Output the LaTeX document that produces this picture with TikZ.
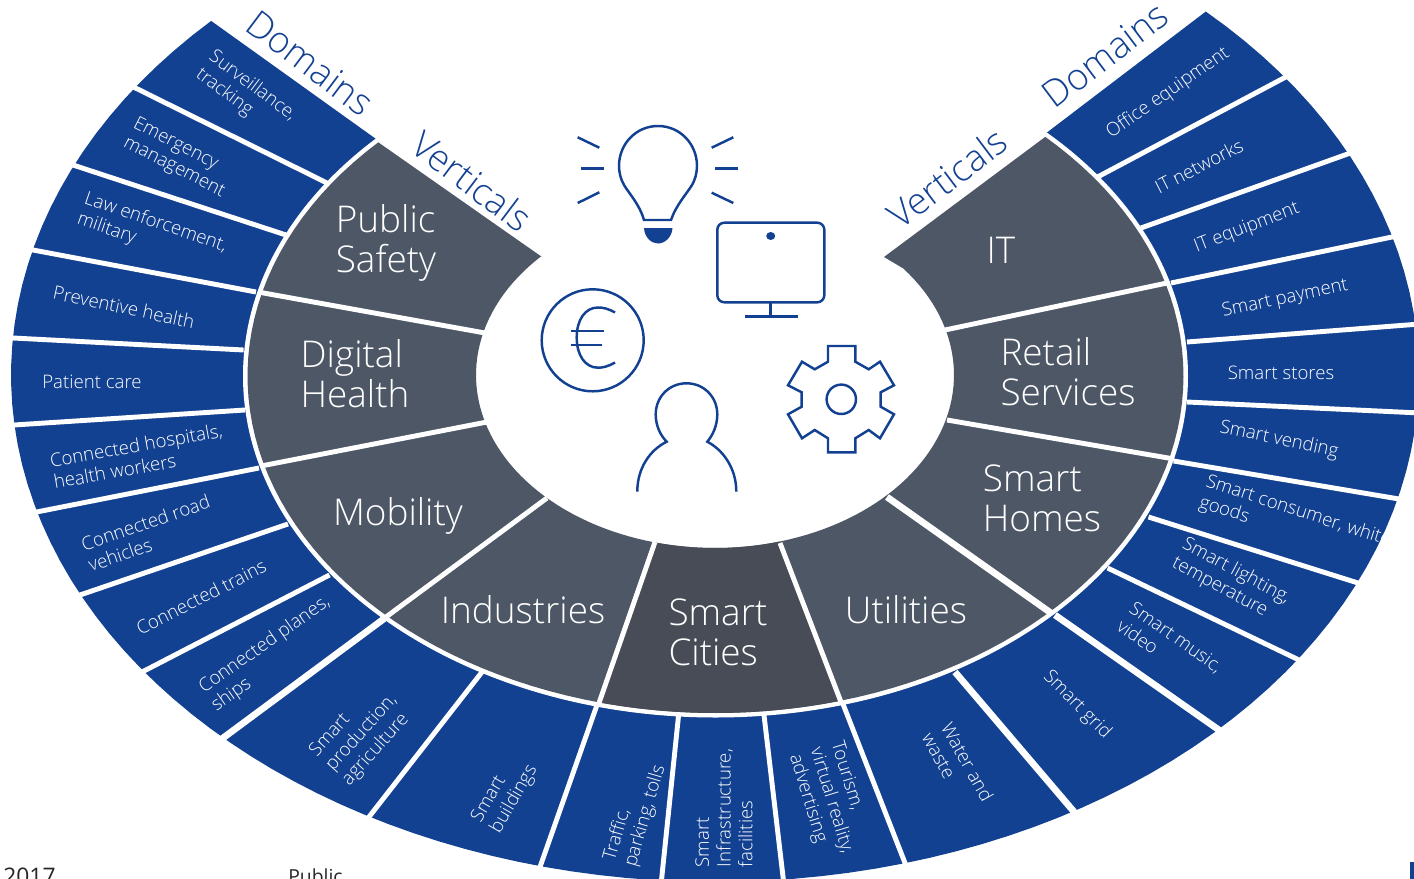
\documentclass[tikz,border=0pt]{standalone}
\usepackage{fontspec}
\setmainfont{Open Sans Light}
\newfontfamily\footerfont{Open Sans}
\usepackage{tikz}
\definecolor{domainblue}{HTML}{134192}
\definecolor{verticalgray}{HTML}{4E5766}
\definecolor{citygray}{HTML}{484C56}

\begin{document}
\begin{tikzpicture}[x=0.02cm,y=-0.02cm]
        \tikzstyle{gap} = [draw=white, line width=2.8pt]
        \tikzstyle{widegap} = [draw=white, line width=3.8pt]
        \tikzstyle{icon} = [draw=domainblue, line width=1.4pt, fill=none]
        \tikzstyle{verticallabel} = [text=white, align=left, inner sep=0, font=\fontsize{21}{22.7}\selectfont]
        \tikzstyle{domainlabel} = [text=white, align=left, inner sep=0, font=\fontsize{10.6}{12.4}\selectfont]
        \tikzstyle{heading} = [text=domainblue, inner sep=0, font=\fontsize{21}{24}\selectfont]
        \useasboundingbox (0,0) rectangle (1414,879);
        % domains
        \fill[domainblue] plot[domain=-45.8:224.3,samples=120] ({715+704*cos(\x)},{375+507*sin(\x)})
            -- (376,139) -- (1045,134) -- cycle;
        \foreach \ax/\ay/\bx/\by in {137.5/89/327/183, 76/166/286/235, 33/250/256/292, 13/338/243.6/350,
            14/425/245/410, 36.6/512/259/468, 80/595/288/524, 144/671/329.5/575, 370.5/815/482/672,
            540/867/597/705, 661/885/678.6/715, 784/885/764/715, 905/863/843/704, 1299/660/1107.6/568,
            1358/583/1148.5/517, 1399/499/1173.6/461, 1420/413/1187/402, 1420/324/1187/342,
            1392/237/1171/283, 1347.6/154/1141/228, 1282/79/1097.5/177}
            \draw[gap, shorten <=-3pt] (\ax,\ay) -- (\bx,\by);
        \foreach \ax/\ay/\bx/\by in {223/738/385/618, 1072.5/810/955/672, 1219/730/1055/615}
            \draw[widegap, shorten <=-3pt] (\ax,\ay) -- (\bx,\by);
        % verticals
        \fill[white] (715.5,376) ellipse [x radius=472.5, y radius=341.5];
        \fill[verticalgray] plot[domain=-45.2:223.9,samples=120] ({715.5+468*cos(\x)},{376+337*sin(\x)})
            -- (542,257) -- plot[domain=223.3:-38,samples=120] ({715+239*cos(\x)},{375+173*sin(\x)})
            -- (884,257) -- cycle;
        \fill[citygray] plot[domain=74.4:104.4,samples=30] ({715.5+468*cos(\x)},{376+337*sin(\x)})
            -- plot[domain=104.6:74.3,samples=30] ({715+239*cos(\x)},{375+173*sin(\x)}) -- cycle;
        \foreach \ax/\ay/\bx/\by in {258/292/485/333, 261/466/487/422, 386/617/547/498, 599/703/655/542,
            780/543/841/702, 947/420/1174/459, 945/330/1167/283}
            \draw[gap] (\ax,\ay) -- (\bx,\by);
        \draw[widegap] (887,497) -- (1051,613);
        % labels of the verticals
        \node[verticallabel] (safety) at (386,243) {Public\\Safety};
        \node[verticallabel] (health) at (355,373.5) {Digital\\Health};
        \node[verticallabel] (mobility) at (398,516) {Mobility};
        \node[verticallabel] (industries) at (523,610) {Industries};
        \node[verticallabel] (cities) at (718,632) {Smart\\Cities};
        \node[verticallabel] (utilities) at (906,610) {Utilities};
        \node[verticallabel] (homes) at (1042,498) {Smart\\Homes};
        \node[verticallabel] (retail) at (1068,372) {Retail\\Services};
        \node[verticallabel] (it) at (1001,250) {IT};
        % labels of the domains
        \node[domainlabel, rotate=-37] (surveillance) at (246,95) {Surveillance,\\tracking};
        \node[domainlabel, rotate=-27] (emergency) at (179,158) {Emergency\\management};
        \node[domainlabel, rotate=-19] (law) at (152,233) {Law enforcement,\\military};
        \node[domainlabel, rotate=-12] (preventive) at (124,307) {Preventive health};
        \node[domainlabel] (patient) at (92,382) {Patient care};
        \node[domainlabel, rotate=10] (hospitals) at (138,456) {Connected hospitals,\\health workers};
        \node[domainlabel, rotate=19] (road) at (149,533) {Connected road\\vehicles};
        \node[domainlabel, rotate=27] (trains) at (201,597) {Connected trains};
        \node[domainlabel, rotate=35] (planes) at (271,654) {Connected planes,\\ships};
        \node[domainlabel, rotate=48] (production) at (362,733) {Smart\\production,\\agriculture};
        \node[domainlabel, rotate=60] (buildings) at (505,794) {Smart\\buildings};
        \node[domainlabel, rotate=74] (traffic) at (635,813) {Traffic,\\parking, tolls};
        \node[domainlabel, rotate=90] (infrastructure) at (724,808) {Smart\\Infrastructure,\\facilities};
        \node[domainlabel, rotate=-73] (tourism) at (831,801) {Tourism,\\virtual reality,\\advertising};
        \node[domainlabel, rotate=-61] (water) at (958,767) {Water and\\waste};
        \node[domainlabel, rotate=-45] (grid) at (1077,705) {Smart grid};
        \node[domainlabel, rotate=-35] (music) at (1170,646) {Smart music,\\video};
        \node[domainlabel, rotate=-28] (lighting) at (1231,581) {Smart lighting,\\temperature};
        \node[domainlabel, rotate=-18] (consumer) at (1295,522) {Smart consumer, white\\goods};
        \node[domainlabel, rotate=-12] (vending) at (1279,440) {Smart vending};
        \node[domainlabel] (stores) at (1281,373) {Smart stores};
        \node[domainlabel, rotate=12] (payment) at (1285,299) {Smart payment};
        \node[domainlabel, rotate=21] (itequipment) at (1247,228) {IT equipment};
        \node[domainlabel, rotate=27] (networks) at (1199,166) {IT networks};
        \node[domainlabel, rotate=35] (office) at (1168,93) {Office equipment};
        % headings
        \node[heading, rotate=-37] (domainsleft) at (310,63) {Domains};
        \node[heading, rotate=-37] (verticalsleft) at (472,181) {Verticals};
        \node[heading, rotate=37] (domainsright) at (1105,55) {Domains};
        \node[heading, rotate=37] (verticalsright) at (947,178) {Verticals};
        % bulb
        \draw[icon] (644,220) .. controls (640,205) and (628,192) .. (624,185)
            .. controls (621,180) and (619,173) .. (619,166)
            .. controls (619,144) and (636,126) .. (658,126)
            .. controls (680,126) and (697,144) .. (697,166)
            .. controls (697,173) and (695,180) .. (692,185)
            .. controls (688,192) and (676,205) .. (671,220) -- cycle;
        \fill[domainblue] (644,228) -- (672.5,228) .. controls (672,237) and (665,243.5) .. (658,243.5)
            .. controls (651,243.5) and (644.5,237) .. (644,228) -- cycle;
        \foreach \ax/\ay/\bx/\by in {577.7/137.3/599.3/147.7, 581/168.7/604/168.7, 577.7/203/599.3/192.3,
            711.7/147.7/733.3/137.3, 715/168.7/738.3/168.7, 711.7/192.7/733.3/203}
            \draw[icon] (\ax,\ay) -- (\bx,\by);
        % monitor
        \draw[icon, rounded corners=4pt] (717.3,222.7) rectangle (824.3,302.3);
        \fill[domainblue] (770.7,236) ellipse [x radius=4.5, y radius=4];
        \draw[icon] (770.7,302.3) -- (770.7,316.7);
        \draw[icon] (745,316.7) -- (797.7,316.7);
        % euro
        \draw[icon] (592.7,340.3) circle (51);
        \draw[icon] (615,312.5) .. controls (608,308.5) and (603,307.5) .. (598,307.5)
            .. controls (585,307.5) and (576.7,320) .. (576.7,337.5)
            .. controls (576.7,355) and (585,367.7) .. (598,367.7)
            .. controls (603,367.7) and (608,366.5) .. (615,362.5);
        \draw[icon] (570.7,331) -- (604,331);
        \draw[icon] (570.7,345) -- (601.7,345);
        % person
        \draw[icon] (637.3,491.7) .. controls (637.3,468) and (650,450) .. (666.7,441.7)
            .. controls (660,435) and (655.7,425) .. (655.7,414.5)
            .. controls (655.7,397) and (669,383.3) .. (686.5,383.3)
            .. controls (704,383.3) and (717.3,397) .. (717.3,414.5)
            .. controls (717.3,425) and (713,435) .. (707.3,441.7)
            .. controls (723,450) and (736.3,468) .. (736.3,491.7);
        % gear
        \draw[icon] (828,361.7) -- (828,346) -- (855.3,346) -- (855.3,361.7) -- (868.7,369.3) -- (880,361.7)
            -- (894,385.3) -- (880.7,392.3) -- (880.7,406.7) -- (894,414.3) -- (880,438.3) -- (868.7,430)
            -- (855.3,438.3) -- (855.3,452.3) -- (828,452.3) -- (828,438.3) -- (814.7,430) -- (802,438.3)
            -- (788,414.3) -- (801.7,406.7) -- (801.7,392.3) -- (788,385.3) -- (802,361.7) -- (814.7,369.3) -- cycle;
        \draw[icon] (841.3,399.3) circle (14.7);
        % footer
        \node[anchor=base west, inner sep=0, text=black!85, font=\footerfont\fontsize{13}{15}\selectfont] (year) at (3,884.5) {2017};
        \node[anchor=base west, inner sep=0, text=black!85, font=\footerfont\fontsize{11}{13}\selectfont] (public) at (288,883) {Public};
        \fill[domainblue] (1409.5,862) rectangle (1414,879);
    \end{tikzpicture}
\end{document}
